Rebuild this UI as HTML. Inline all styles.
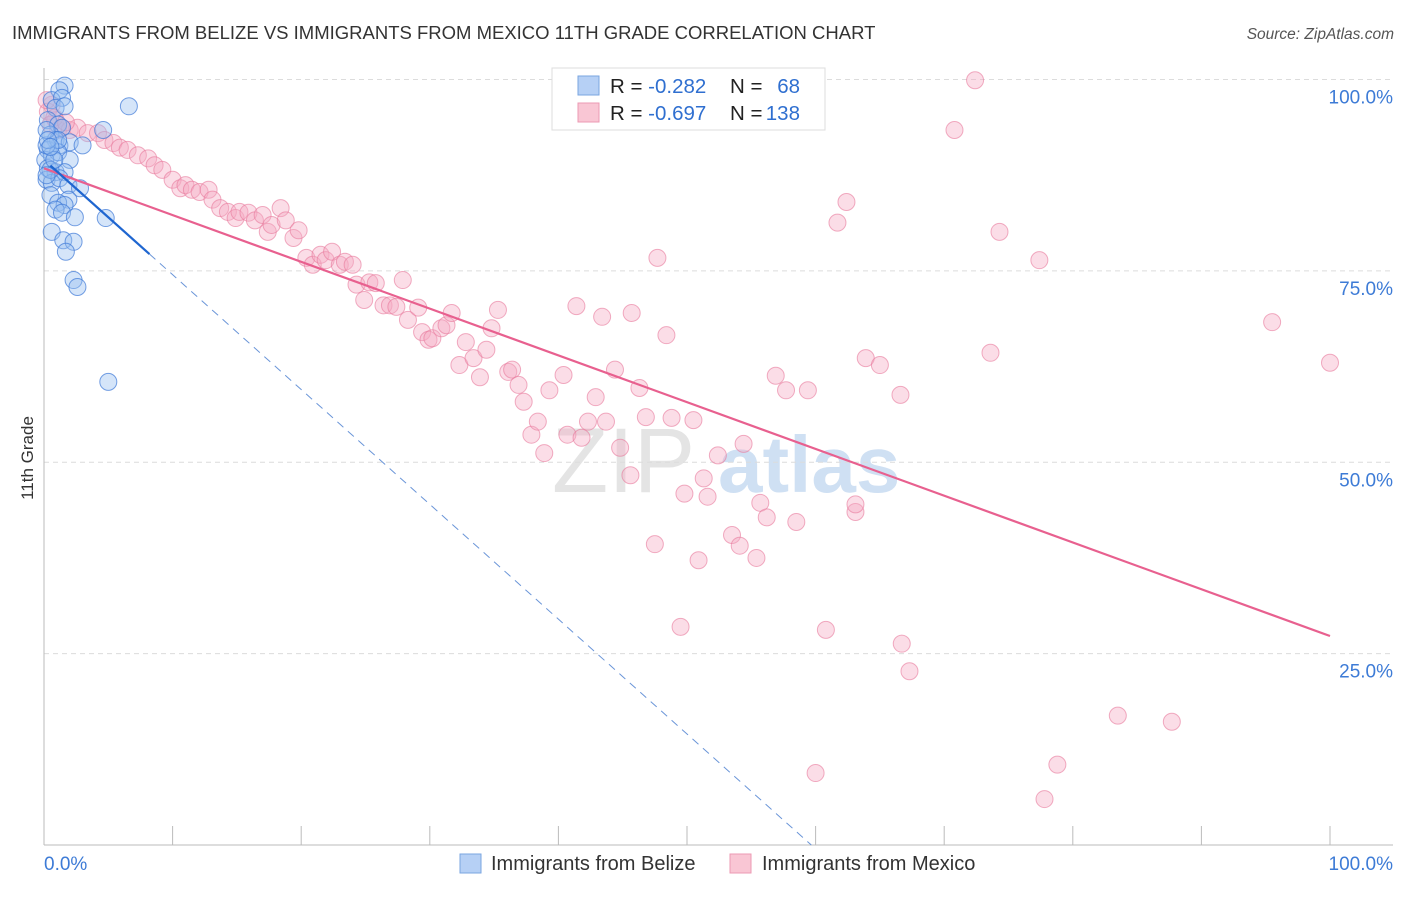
<!DOCTYPE html>
<html><head><meta charset="utf-8"><style>
body{margin:0;background:#fff;font-family:"Liberation Sans",sans-serif;}
svg text{font-family:"Liberation Sans",sans-serif;}
</style></head><body>
<svg id="chart" width="1406" height="892">
<text x="12" y="39" font-size="18.5" fill="#333">IMMIGRANTS FROM BELIZE VS IMMIGRANTS FROM MEXICO 11TH GRADE CORRELATION CHART</text>
<text x="1394" y="39" font-size="15.5" fill="#555" text-anchor="end" font-style="italic">Source: ZipAtlas.com</text>
<text x="0" y="0" transform="translate(33,458) rotate(-90)" font-size="17" fill="#333" text-anchor="middle">11th Grade</text>
<g><text x="552" y="492" font-size="92" fill="#e4e4e4" font-family="Liberation Serif,serif">ZIP</text><text x="718" y="492" font-size="80" fill="#cfe0f3" font-weight="bold">atlas</text></g>
<g id="grid"></g>
<g id="axes"></g>
<g id="pts"></g>
<g id="lines"></g>
<g>
<rect x="552" y="68" width="273" height="62" fill="#fff" stroke="#ddd"/>
<rect x="578" y="76" width="21" height="19" fill="#b6d0f5" stroke="#7aa6e0"/>
<rect x="578" y="103" width="21" height="19" fill="#f9c6d4" stroke="#ec9ab3"/>
<text x="610" y="93" font-size="20.5" fill="#222">R = <tspan fill="#2f6fd0">-0.282</tspan></text>
<text x="730" y="93" font-size="20.5" fill="#222">N =</text>
<text x="800" y="93" font-size="20.5" fill="#2f6fd0" text-anchor="end">68</text>
<text x="610" y="120" font-size="20.5" fill="#222">R = <tspan fill="#2f6fd0">-0.697</tspan></text>
<text x="730" y="120" font-size="20.5" fill="#222">N =</text>
<text x="800" y="120" font-size="20.5" fill="#2f6fd0" text-anchor="end">138</text>
</g>
<g>
<rect x="460" y="854" width="21" height="19" fill="#b6d0f5" stroke="#7aa6e0"/>
<text x="491" y="870" font-size="20" fill="#333">Immigrants from Belize</text>
<rect x="730" y="854" width="21" height="19" fill="#f9c6d4" stroke="#ec9ab3"/>
<text x="762" y="870" font-size="20" fill="#333">Immigrants from Mexico</text>
</g>
</svg>
<script>
const belizeX=[1.6,1.2,0.6,1.4,0.9,1.6,6.6,0.3,1.1,1.4,4.6,0.5,0.9,1.2,2.0,3.0,0.3,0.6,1.1,0.1,2.0,0.3,0.9,1.6,0.2,0.6,1.2,1.9,2.8,0.5,1.9,1.1,1.6,0.9,1.4,2.4,4.8,0.6,1.5,2.3,1.7,2.3,2.6,5.0,0.5,0.2,0.8,1.1,0.2,0.2,0.3,0.5];
const belizeY=[99.2,98.6,97.3,97.6,96.3,96.5,96.5,94.7,94.1,93.7,93.4,92.8,92.1,91.4,91.8,91.4,90.8,90.1,90.5,89.5,89.5,88.4,87.9,87.9,86.9,86.5,87.1,86.2,85.8,84.9,84.3,83.9,83.6,83.0,82.6,82.0,81.9,80.1,79.0,78.8,77.5,73.8,72.9,60.5,88.2,87.5,89.5,92.1,91.4,93.4,92.1,91.2];
const mexicoX=[0.6,0.9,1.1,1.4,2.0,2.6,3.4,4.2,4.7,5.4,5.9,6.5,7.3,8.1,8.6,9.2,10.0,10.6,11.0,11.5,12.1,12.8,13.1,13.7,14.3,14.9,15.2,15.9,16.4,17.0,17.4,17.7,18.4,18.8,19.4,19.8,20.4,20.9,21.5,21.9,22.4,23.0,23.4,24.0,24.3,24.9,25.3,25.8,26.4,26.9,27.4,27.9,28.3,29.1,29.4,29.9,30.2,30.9,31.3,31.7,32.8,32.3,33.4,33.9,34.4,34.8,35.3,36.1,36.4,36.9,37.3,37.9,38.4,38.9,39.3,40.4,40.7,41.4,41.8,42.3,42.9,43.4,43.7,44.4,44.8,45.6,45.7,46.3,46.8,47.5,47.7,48.4,48.8,49.5,49.8,50.5,50.9,51.3,51.6,52.4,53.5,54.1,54.4,55.4,55.7,56.2,56.9,57.7,58.5,59.4,60.0,60.8,61.7,62.4,63.1,63.1,63.9,65.0,66.6,66.7,67.3,70.8,72.4,73.6,74.3,77.4,77.8,78.8,83.5,87.7,95.5,100,54.6,0.3,0.5,0.2,0.8,1.7];
const mexicoY=[96.7,94.7,93.4,93.7,93.4,93.7,93.0,93.0,92.1,91.7,91.1,90.8,90.1,89.7,88.8,88.2,86.9,85.8,86.2,85.6,85.3,85.6,84.3,83.2,82.7,81.9,82.7,82.6,81.6,82.3,80.1,81.0,83.2,81.6,79.3,80.3,76.7,75.8,77.1,76.4,77.5,75.8,76.2,75.8,73.2,71.2,73.5,73.4,70.5,70.5,70.3,73.8,68.6,70.2,67.0,66.0,66.2,67.5,67.9,69.5,65.7,62.7,63.6,61.1,64.7,67.5,69.9,61.8,62.1,60.1,57.9,53.6,55.3,51.2,59.4,61.4,53.6,70.4,53.2,55.3,58.5,69.0,55.3,62.1,51.9,48.3,69.5,59.7,55.9,39.3,76.7,66.6,55.8,28.5,45.9,55.5,37.2,47.9,45.5,50.9,40.5,39.1,52.4,37.5,44.7,42.8,61.3,59.4,42.2,59.4,9.4,28.1,81.3,84.0,43.5,44.5,63.6,62.7,58.8,26.3,22.7,93.4,99.9,64.3,80.1,76.4,6.0,10.5,16.9,16.1,68.3,63.0,99.9,95.8,94.1,97.3,95.0,94.4];
const yTicks=[100,75,50,25];
const yTickLabels=["100.0%","75.0%","50.0%","25.0%"];
const xTicks=[0,10,20,30,40,50,60,70,80,90,100];
const mexicoTrend=[88.4,27.3];
const belizeTrend=[89.5,-1.5];
const belizeSolidEnd=8.2;

const NS="http://www.w3.org/2000/svg";
const X=v=>44+v*12.86;
const Y=v=>845-v*7.655;
function mk(tag,attrs,parent){const e=document.createElementNS(NS,tag);for(const k in attrs)e.setAttribute(k,attrs[k]);parent.appendChild(e);return e;}
const grid=document.getElementById('grid'),axes=document.getElementById('axes'),pts=document.getElementById('pts'),lines=document.getElementById('lines');
yTicks.forEach((t,i)=>{
 const l=mk('line',{x1:44,x2:1393,y1:Y(t),y2:Y(t),stroke:'#dcdcdc','stroke-dasharray':'5,4'},grid);
 
 
 const tx=mk('text',{x:1393,y:Y(t)+24,'font-size':19,fill:'#3d7bd6','text-anchor':'end'},axes);
 tx.textContent=yTickLabels[i];
 
 
});
const ax=mk('line',{x1:44,x2:44,y1:68,y2:845,stroke:'#bbb'},axes);


const bx=mk('line',{x1:44,x2:1393,y1:845,y2:845,stroke:'#bbb'},axes);


xTicks.forEach(t=>{
 const l=mk('line',{x1:X(t),x2:X(t),y1:826,y2:845,stroke:'#bbb'},axes);
 
 
});
const xl0=mk('text',{x:44,y:870,'font-size':19,fill:'#3d7bd6'},axes);
xl0.textContent='0.0%';


const xl1=mk('text',{x:1393,y:870,'font-size':19,fill:'#3d7bd6','text-anchor':'end'},axes);
xl1.textContent='100.0%';


mexicoX.forEach((v,i)=>{
 const c=mk('circle',{cx:X(v),cy:Y(mexicoY[i]),r:8.5,fill:'rgba(246,170,194,0.4)',stroke:'rgba(232,120,155,0.6)','stroke-width':1},pts);
 
 
});
belizeX.forEach((v,i)=>{
 const c=mk('circle',{cx:X(v),cy:Y(belizeY[i]),r:8.5,fill:'rgba(150,190,240,0.4)',stroke:'rgba(60,120,215,0.7)','stroke-width':1},pts);
 
 
});
const mt=mk('line',{x1:X(0),y1:Y(mexicoTrend[0]),x2:X(100),y2:Y(mexicoTrend[1]),stroke:'#e8608f','stroke-width':2.2},lines);


const bz=x=>belizeTrend[0]+belizeTrend[1]*x;
const xEnd=-belizeTrend[0]/belizeTrend[1];
const bd=mk('line',{x1:X(belizeSolidEnd),y1:Y(bz(belizeSolidEnd)),x2:X(xEnd),y2:Y(0),stroke:'#6a95d8','stroke-width':1,'stroke-dasharray':'8,6'},lines);


const bt=mk('line',{x1:X(0.5),y1:Y(bz(0.5)),x2:X(belizeSolidEnd),y2:Y(bz(belizeSolidEnd)),stroke:'#1f66d0','stroke-width':2.2},lines);


</script>
</body></html>
